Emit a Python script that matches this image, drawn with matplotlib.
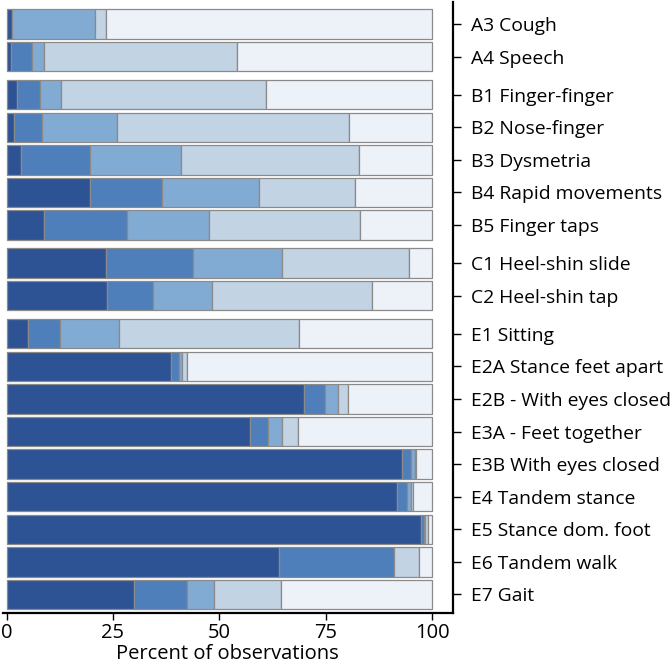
import matplotlib.pyplot as plt
import numpy as np

plt.rcParams['font.family'] = ['Open Sans', 'DejaVu Sans']

labels = ['A3 Cough', 'A4 Speech',
          'B1 Finger-finger', 'B2 Nose-finger', 'B3 Dysmetria',
          'B4 Rapid movements', 'B5 Finger taps',
          'C1 Heel-shin slide', 'C2 Heel-shin tap',
          'E1 Sitting', 'E2A Stance feet apart', 'E2B - With eyes closed',
          'E3A - Feet together', 'E3B With eyes closed', 'E4 Tandem stance',
          'E5 Stance dom. foot', 'E6 Tandem walk', 'E7 Gait']
groups = ['A', 'A', 'B', 'B', 'B', 'B', 'B', 'C', 'C',
          'E', 'E', 'E', 'E', 'E', 'E', 'E', 'E', 'E']

# percent of observations per score level (darkest -> lightest)
s1 = [1.3, 1.0, 2.35, 1.8, 3.3, 19.7, 8.7, 23.3, 23.7,
      5.0, 38.6, 69.8, 57.3, 93.0, 91.8, 97.3, 63.9, 30.0]
s2 = [0.0, 5.1, 5.5, 6.65, 16.2, 16.8, 19.7, 20.4, 10.7,
      7.5, 1.8, 4.9, 4.2, 1.9, 2.2, 0.7, 27.1, 12.5]
s3 = [19.6, 2.75, 5.0, 17.4, 21.6, 22.9, 19.1, 21.1, 13.9,
      14.0, 0.9, 3.1, 3.1, 1.1, 0.9, 0.4, 0.0, 6.3]
s4 = [2.5, 45.2, 48.0, 54.5, 41.6, 22.5, 35.6, 29.8, 37.6,
      42.3, 1.1, 2.5, 3.8, 0.2, 0.7, 0.5, 5.8, 15.6]
s5 = [76.6, 46.0, 39.2, 19.7, 17.3, 18.1, 16.9, 5.4, 14.1,
      31.2, 57.6, 19.7, 31.6, 3.8, 4.4, 1.1, 3.2, 35.6]

colors = ['#2e5395', '#4f7fba', '#82abd3', '#c2d3e4', '#edf1f8']

# y positions with a small gap between item groups
ypos = []
y = 0.0
for i, g in enumerate(groups):
    if i > 0 and g != groups[i - 1]:
        y += 0.17
    ypos.append(y)
    y += 1
ypos = np.array(ypos)

fig = plt.figure(figsize=(6.72, 6.65), dpi=100)
ax = fig.add_axes([0.004, 0.0777, 0.6696, 0.919])

left = np.zeros(len(labels))
for vals, c in zip([s1, s2, s3, s4, s5], colors):
    vals = np.array(vals)
    ax.barh(ypos, vals, left=left, height=0.9, color=c,
            edgecolor='#8a8a8a', linewidth=0.9)
    left += vals

ax.set_xlim(-0.9, 104.8)
ax.set_ylim(ypos[-1] + 0.58, -0.67)

ax.yaxis.tick_right()
ax.set_yticks(ypos)
ax.set_yticklabels(labels)
ax.set_xticks([0, 25, 50, 75, 100])
ax.tick_params(axis='y', length=6, width=1, pad=7, labelsize=13.9)
ax.tick_params(axis='x', length=5, width=1, pad=2, labelsize=14.5)
ax.set_xlabel('Percent of observations', fontsize=14.5, labelpad=1)

for s in ['top', 'left']:
    ax.spines[s].set_visible(False)
for s in ['bottom', 'right']:
    ax.spines[s].set_linewidth(1.6)

fig.savefig('out.png', dpi=100)
